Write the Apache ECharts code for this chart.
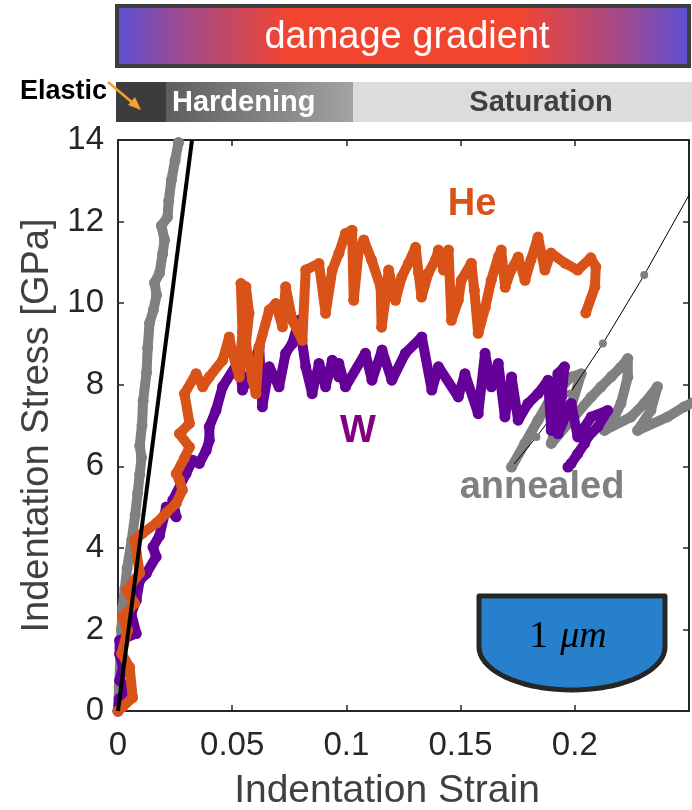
<!DOCTYPE html>
<html>
<head>
<meta charset="utf-8">
<script src="https://cdn.jsdelivr.net/npm/echarts@6/dist/echarts.min.js"></script>
<style>
html,body{margin:0;padding:0;background:#fff;}
#chart{width:692px;height:810px;}
</style>
</head>
<body>
<div id="chart"></div>
<script>
// ---- data (strain, stress in GPa) ----
var xTicks = [0, 0.05, 0.1, 0.15, 0.2];
var yTicks = [0, 2, 4, 6, 8, 10, 12, 14];

var heStrain = [0,0.002,0.0064,0.0051,0.0016,0.0042,0.002,0.0073,0.0038,0.0095,0.0073,0.0108,0.0169,0.0212,0.0256,0.0282,0.0269,0.0255,0.0291,0.0313,0.0269,0.0313,0.0291,0.0342,0.0371,0.04,0.0458,0.0487,0.0502,0.0531,0.0545,0.0538,0.056,0.0574,0.056,0.0589,0.0604,0.0618,0.0662,0.0691,0.072,0.0734,0.0763,0.0807,0.0822,0.088,0.0909,0.0938,0.0967,0.0996,
  0.1025,0.1032,0.1054,0.1076,0.1111,0.1150,0.1154,0.1172,0.1185,0.1215,0.1242,0.1272,0.1303,0.1316,0.1329,0.1359,0.1390,0.1403,0.1425,0.1447,0.1460,0.1490,0.1503,0.1547,0.1560,0.1577,0.1608,0.1634,0.1665,0.1678,0.1695,0.1721,0.1752,0.1782,0.1808,0.1839,0.1869,0.1896,0.1957,0.2013,0.2070,0.2092,0.2088,0.2048];
var heStress = [0,0.1,0.33,1.07,1.41,1.98,2.3,2.64,2.96,3.38,4.19,4.36,4.61,4.86,5.1,5.42,5.66,5.82,6.2,6.47,6.8,7.05,7.78,8.27,7.95,8.19,8.6,9.17,8.77,8.19,9.3,10.48,10.4,9.75,9.01,8.11,7.78,8.93,9.83,9.99,9.42,10.4,9.58,9.09,10.81,10.97,9.75,10.81,11.22,11.71,
  11.79,10.07,11.30,11.55,11.05,10.39,9.41,10.15,10.81,10.07,10.64,10.98,11.37,10.74,10.15,10.74,11.06,11.30,10.81,11.30,9.58,10.07,10.56,10.98,10.32,9.26,9.90,10.56,11.13,11.30,10.39,10.81,11.13,10.56,11.06,11.62,10.81,11.23,10.98,10.81,11.11,10.89,10.40,9.76];

var wStrain = [0,0.0005,0.0051,0.0007,0.0022,0.0007,0.0007,0.008,0.0058,0.008,0.0095,0.0124,0.0167,0.0153,0.0182,0.0211,0.0255,0.024,0.0298,0.0327,0.0356,0.0386,0.04,0.04,0.0429,0.0458,0.0531,0.0545,0.0589,0.0618,0.0632,0.0662,0.0705,0.0734,0.0763,0.0792,0.0822,0.085,0.088,0.0909,0.0938,0.0967,0.0967,0.0996,0.1083,0.1112,0.1156,0.1199,0.1258,0.133,0.1374,0.1403,0.149,0.1519,0.1577,0.1607,0.1635,0.1665,0.1694,0.1723,0.1752,0.1795,0.1839,0.1883,0.1897,0.1926,0.1955,0.1941,0.1926,0.1984,0.2013,0.2072,0.2144,0.2101,0.2057,0.2043,0.2013,0.1984,0.197];
var wStress = [0,0.3,0.5,0.75,1.08,1.4,1.73,1.9,2.39,2.71,3.2,3.37,3.78,4.02,4.3,5.0,4.76,5.17,5.82,6.15,6.07,6.39,6.64,6.97,7.37,7.95,8.6,7.87,8.36,8.93,7.46,8.44,7.95,8.77,9.01,9.58,8.44,7.78,8.52,7.95,8.6,8.19,8.52,7.95,8.77,8.11,8.85,8.11,8.77,9.17,7.87,8.44,7.7,8.27,7.29,8.77,7.95,8.52,7.21,8.19,7.13,7.54,7.78,8.11,6.88,8.27,8.44,7.7,6.8,7.54,6.72,7.21,7.37,6.97,6.72,6.56,6.31,6.07,5.98];

var annealedLoadStrain = [0,0.0005,0.001,0.0015,0.002,0.003,0.004,0.006,0.0075,0.0086,0.0095,0.0103,0.0095,0.0105,0.011,0.0125,0.013,0.0138,0.0155,0.0169,0.0160,0.0182,0.0195,0.0204,0.0190,0.0217,0.0222,0.0234,0.025,0.0265];
var annealedLoadStress = [0,0.6,1.3,2.0,2.54,3.0,3.5,4.19,4.8,5.34,5.8,6.22,6.5,7.0,7.6,8.3,8.9,9.51,9.83,10.2,10.5,10.74,11.2,11.55,11.9,12.11,12.5,13.02,13.5,13.94];

var annealedJumpStrain = [0.2505,0.2304,0.2123,0.1977,0.1832,0.1723];
var annealedJumpStress = [12.7,10.69,9.01,7.78,6.72,5.98];

var annealedTailStrain = [0.1723,0.1781,0.1839,0.1897,0.1984,0.2028,0.1984,0.1912,0.1897,0.1984,0.2072,0.2115,0.2160,0.2200,0.2232,0.2232,0.2202,0.2174,0.213,0.2246,0.2304,0.2362,0.2333,0.2275,0.2406,0.2479,0.2530];
var annealedTailStress = [5.98,6.56,7.13,7.7,8.19,8.27,7.46,6.88,6.56,7.13,7.7,7.95,8.2,8.42,8.64,8.19,7.54,7.21,6.88,7.21,7.54,7.95,7.37,6.88,7.21,7.46,7.6];

var fitStrain = [0, 0.0324];
var fitStress = [0, 14];

function pairs(xs, ys){ return xs.map(function(x,i){ return [x, ys[i]]; }); }

var FONT = "'Liberation Sans', Arial, Helvetica, sans-serif";
var SERIF = "'Liberation Serif', 'DejaVu Serif', serif";
var cOrange = '#D95319', cPurple = '#650099', cGray = '#808080';

function dotSeries(name, xs, ys, color, z){
  return {
    name: name, type: 'line', data: pairs(xs, ys), z: z,
    symbol: 'circle', symbolSize: 11, showAllSymbol: true,
    itemStyle: {color: color},
    lineStyle: {color: color, width: 10, cap: 'round', join: 'round'},
    emphasis: {disabled: true}, silent: true, clip: true
  };
}

// indenter outline (decoration): flat top, half-ellipse bottom
var indenterPts = [[479, 596], [665, 596]];
for (var k = 0; k <= 36; k++) {
  var t = Math.PI * k / 36;
  indenterPts.push([572 + 93 * Math.cos(t), 647 + 43 * Math.sin(t)]);
}

var chart = echarts.init(document.getElementById('chart'), null, {renderer: 'canvas'});

var axisLineStyle = {color: '#262626', width: 2};
var tickStyle = {show: true, inside: true, length: 6, lineStyle: {color: '#262626', width: 1.5}};
var option = {
  animation: false,
  backgroundColor: '#fff',
  textStyle: {fontFamily: FONT},
  grid: {left: 118, right: 3, top: 140, bottom: 99, containLabel: false},
  xAxis: [{
    type: 'value', min: 0, max: 0.25, interval: 0.05,
    axisLine: {show: true, onZero: false, lineStyle: axisLineStyle},
    axisTick: tickStyle,
    axisLabel: {fontSize: 33, color: '#262626', margin: 18, fontFamily: FONT,
      formatter: function(v){
        for (var i = 0; i < xTicks.length; i++) { if (Math.abs(v - xTicks[i]) < 1e-9) return String(xTicks[i]); }
        return '';
      }},
    splitLine: {show: false}
  },{
    type: 'value', min: 0, max: 0.25, interval: 0.05, position: 'top',
    axisLine: {show: true, onZero: false, lineStyle: axisLineStyle},
    axisTick: tickStyle,
    axisLabel: {show: false}, splitLine: {show: false}
  }],
  yAxis: [{
    type: 'value', min: 0, max: 14, interval: 2,
    name: 'Indentation Stress [GPa]', nameLocation: 'middle', nameGap: 59,
    nameTextStyle: {fontSize: 38, color: '#404040', fontFamily: FONT},
    axisLine: {show: true, onZero: false, lineStyle: axisLineStyle},
    axisTick: tickStyle,
    axisLabel: {fontSize: 33, color: '#262626', margin: 14, fontFamily: FONT,
      formatter: function(v){ return yTicks.indexOf(v) >= 0 ? String(v) : ''; }},
    splitLine: {show: false}
  },{
    type: 'value', min: 0, max: 14, interval: 2, position: 'right',
    axisLine: {show: true, onZero: false, lineStyle: axisLineStyle},
    axisTick: tickStyle,
    axisLabel: {show: false}, splitLine: {show: false}
  }],
  series: [
    dotSeries('annealed tail', annealedTailStrain, annealedTailStress, cGray, 2),
    {
      name: 'annealed jump', type: 'line', data: pairs(annealedJumpStrain, annealedJumpStress), z: 3,
      symbol: 'circle', symbolSize: 8, showAllSymbol: true,
      itemStyle: {color: cGray}, lineStyle: {color: '#000', width: 1},
      emphasis: {disabled: true}, silent: true, clip: true
    },
    dotSeries('annealed', annealedLoadStrain, annealedLoadStress, cGray, 2),
    dotSeries('W', wStrain, wStress, cPurple, 4),
    dotSeries('He', heStrain, heStress, cOrange, 5),
    {
      name: 'elastic fit', type: 'line', data: pairs(fitStrain, fitStress), z: 6,
      symbol: 'none', lineStyle: {color: '#000', width: 4},
      emphasis: {disabled: true}, silent: true, clip: true
    }
  ],
  graphic: [
    {type: 'rect', x: 117, y: 6, z: 10,
      shape: {x: 0, y: 0, width: 572, height: 60},
      style: {stroke: '#3d3d3d', lineWidth: 4,
        fill: new echarts.graphic.LinearGradient(0, 0, 1, 0, [
          {offset: 0, color: '#5a50d8'}, {offset: 0.12, color: '#a14a8c'},
          {offset: 0.3, color: '#f24530'}, {offset: 0.7, color: '#f24530'},
          {offset: 0.88, color: '#a14a8c'}, {offset: 1, color: '#5a50d8'}])}},
    {type: 'text', x: 407, y: 38, z: 11,
      style: {text: 'damage gradient', fill: '#fff', font: '38px ' + FONT, textAlign: 'center', textVerticalAlign: 'middle'}},
    {type: 'rect', x: 116, y: 82, z: 10, shape: {x: 0, y: 0, width: 50, height: 40}, style: {fill: '#3c3c3c'}},
    {type: 'rect', x: 166, y: 82, z: 10, shape: {x: 0, y: 0, width: 187, height: 40},
      style: {fill: new echarts.graphic.LinearGradient(0, 0, 1, 0, [{offset: 0, color: '#5e5e5e'}, {offset: 1, color: '#a3a3a3'}])}},
    {type: 'rect', x: 353, y: 82, z: 10, shape: {x: 0, y: 0, width: 339, height: 40}, style: {fill: '#dcdcdc'}},
    {type: 'text', x: 172, y: 103, z: 11,
      style: {text: 'Hardening', fill: '#fff', font: 'bold 29px ' + FONT, textAlign: 'left', textVerticalAlign: 'middle'}},
    {type: 'text', x: 541, y: 103, z: 11,
      style: {text: 'Saturation', fill: '#404040', font: 'bold 29px ' + FONT, textAlign: 'center', textVerticalAlign: 'middle'}},
    {type: 'text', x: 107, y: 92, z: 11,
      style: {text: 'Elastic', fill: '#000', font: 'bold 27px ' + FONT, textAlign: 'right', textVerticalAlign: 'middle'}},
    {type: 'line', z: 12, shape: {x1: 108, y1: 82, x2: 134, y2: 104}, style: {stroke: '#f5a030', lineWidth: 2.5}},
    {type: 'polygon', z: 12, shape: {points: [[141, 110], [128, 105], [135, 97]]}, style: {fill: '#f5a030'}},
    {type: 'text', x: 387, y: 791, z: 11,
      style: {text: 'Indentation Strain', fill: '#404040', font: '39px ' + FONT, textAlign: 'center', textVerticalAlign: 'middle'}},
    {type: 'text', x: 472, y: 205, z: 11,
      style: {text: 'He', fill: cOrange, font: 'bold 38px ' + FONT, textAlign: 'center', textVerticalAlign: 'middle'}},
    {type: 'text', x: 358, y: 432, z: 11,
      style: {text: 'W', fill: '#800080', font: 'bold 38px ' + FONT, textAlign: 'center', textVerticalAlign: 'middle'}},
    {type: 'text', x: 542, y: 488, z: 11,
      style: {text: 'annealed', fill: cGray, font: 'bold 38px ' + FONT, textAlign: 'center', textVerticalAlign: 'middle'}},
    {type: 'polygon', z: 11, shape: {points: indenterPts},
      style: {fill: '#2680cc', stroke: '#262626', lineWidth: 5, lineJoin: 'round'}},
    {type: 'text', x: 568, y: 637, z: 12,
      style: {text: '{a|1}{b|μm}', textAlign: 'center', textVerticalAlign: 'middle',
        rich: {a: {fontFamily: SERIF, fontSize: 38, color: '#fff', padding: [0, 12, 0, 0]},
               b: {fontFamily: SERIF, fontStyle: 'italic', fontSize: 38, color: '#fff'}}}}
  ]
};
chart.setOption(option);
</script>
</body>
</html>
